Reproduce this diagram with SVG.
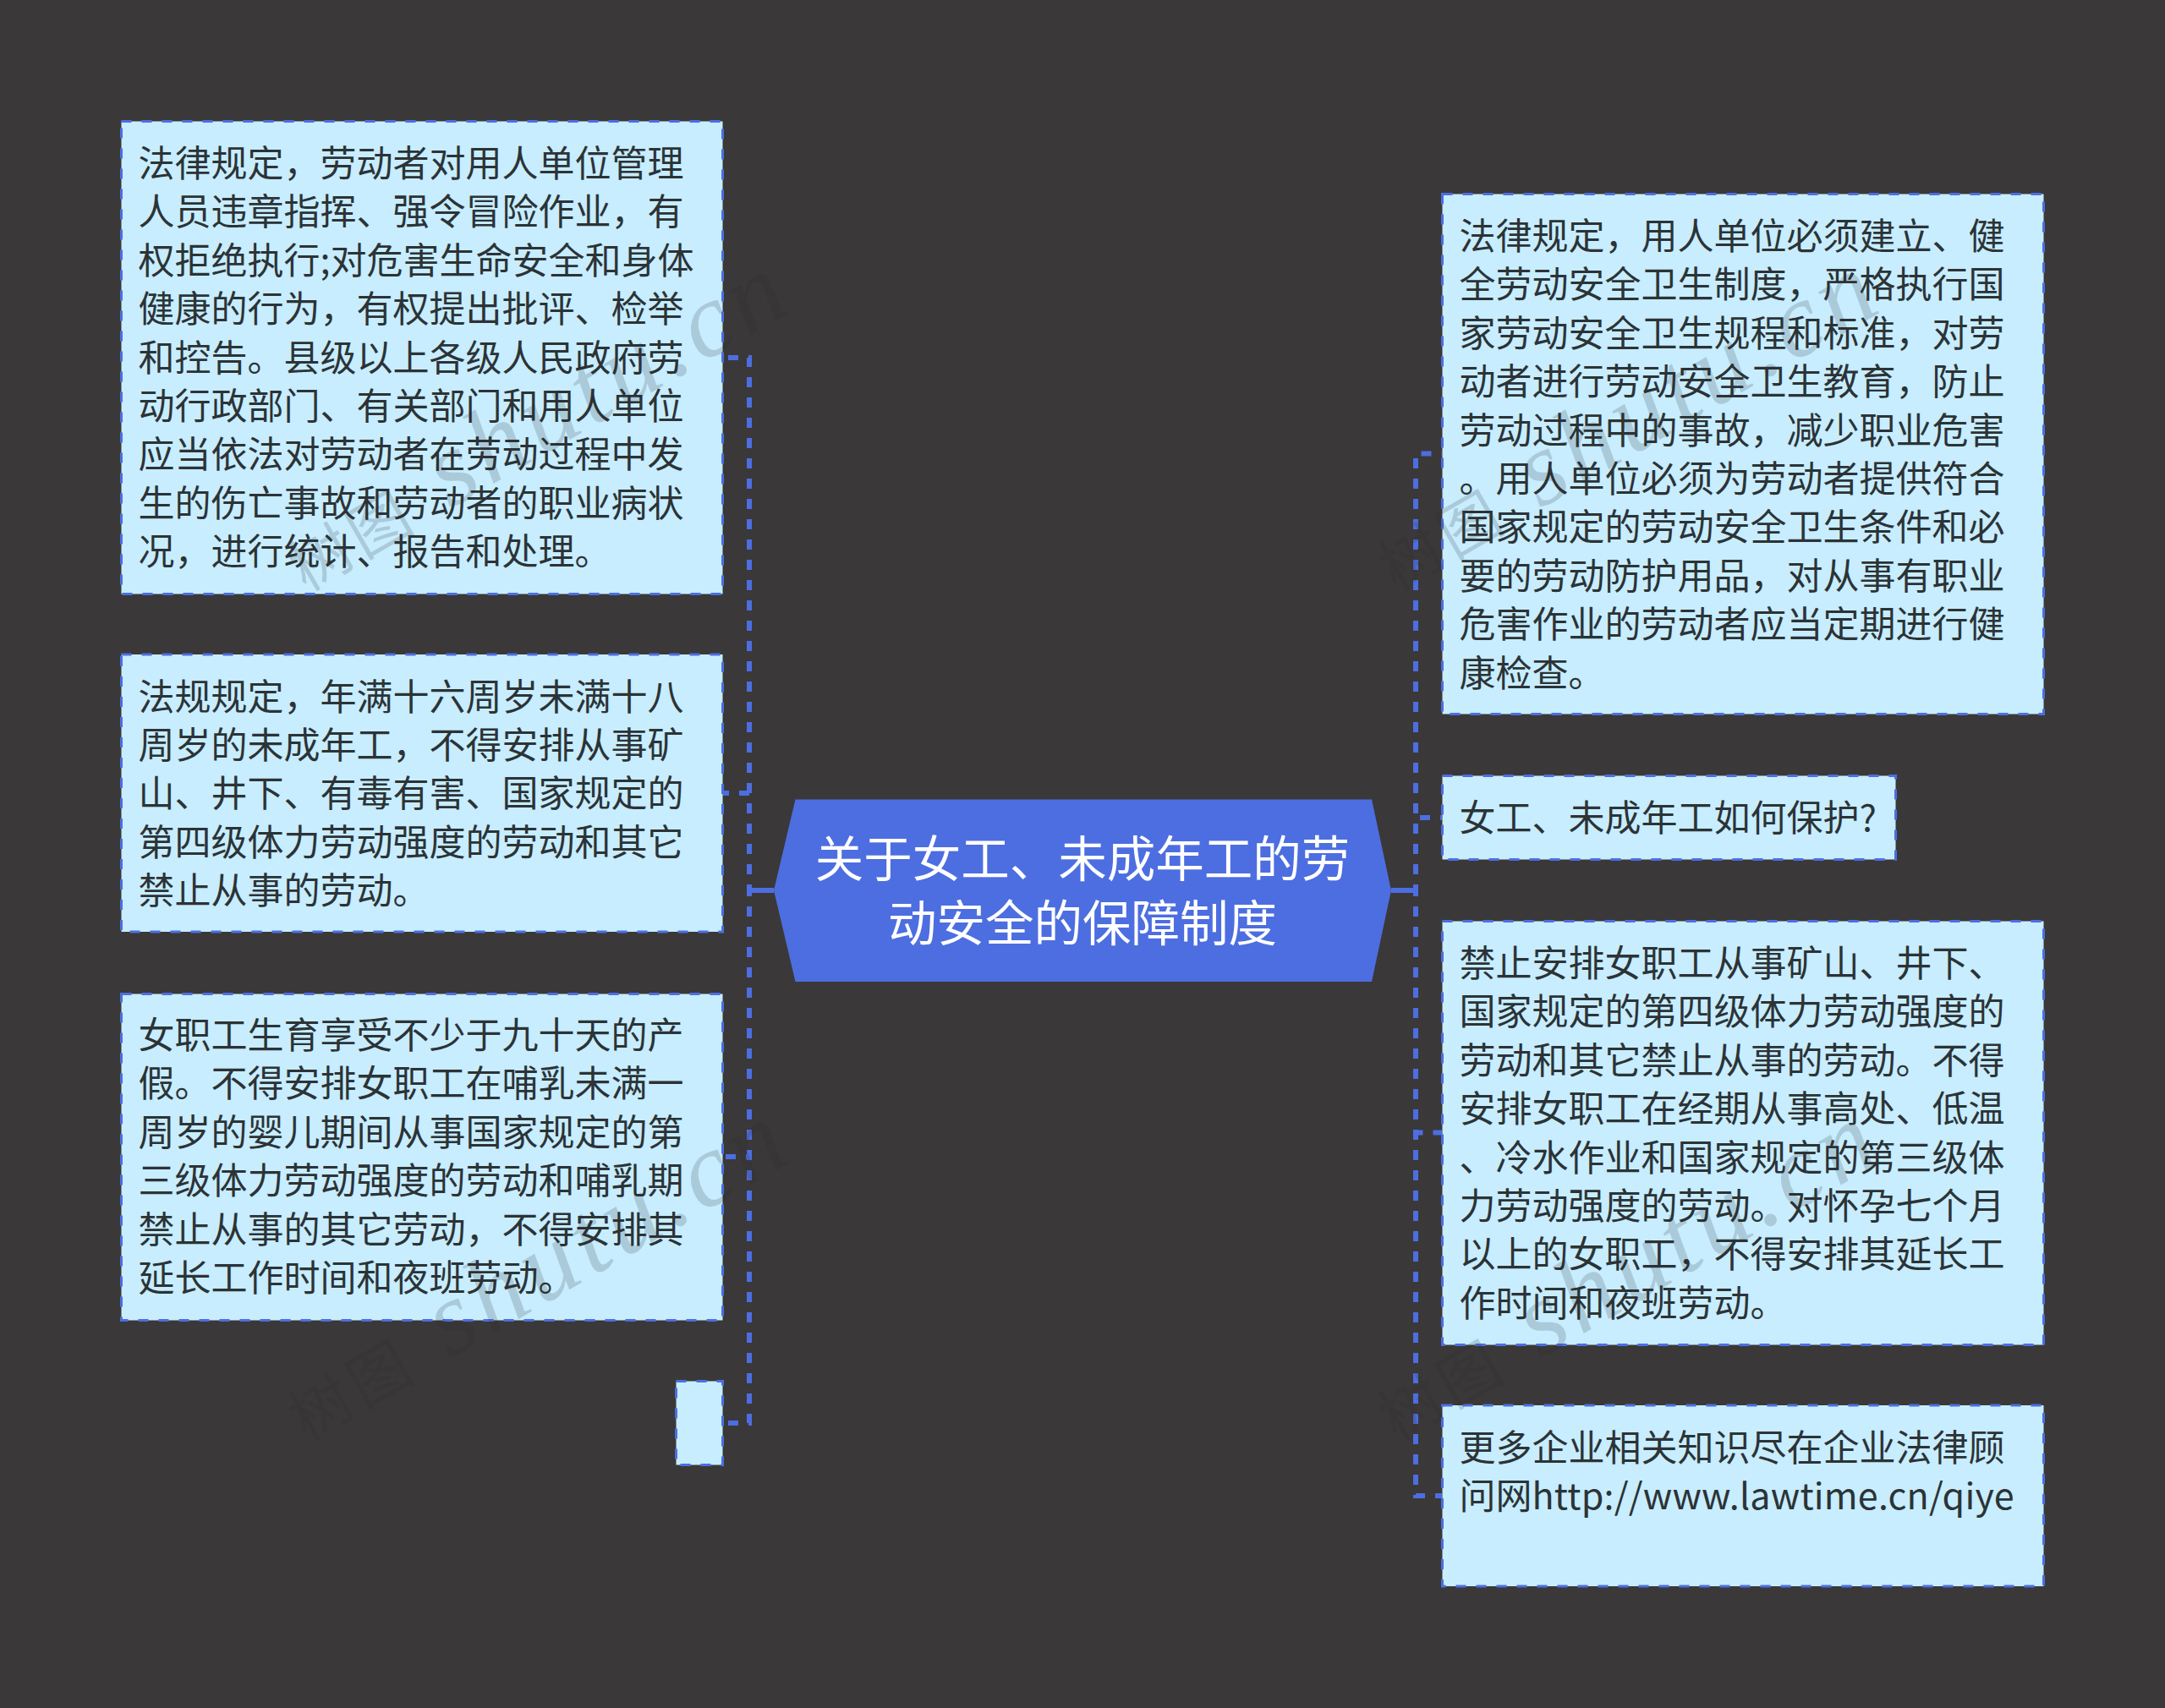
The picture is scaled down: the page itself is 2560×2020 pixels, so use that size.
<svg xmlns="http://www.w3.org/2000/svg" width="2560" height="2020" viewBox="0 0 2560 2020">
<style>
.n{fill:#c7edff;stroke:#4d6ee0;stroke-width:3;stroke-dasharray:12 12}
.t{font-family:"Noto Sans CJK SC","Liberation Sans",sans-serif;font-size:43px;fill:#2c3336}
.c{font-family:"Noto Sans CJK SC","Liberation Sans",sans-serif;font-size:57.5px;fill:#fff;text-anchor:middle}
.l{fill:none;stroke:#4d6ee0;stroke-width:6;stroke-dasharray:12 12}
.s{fill:none;stroke:#4d6ee0;stroke-width:6}
.w{font-family:"Liberation Serif","Noto Sans CJK SC",serif;font-style:italic;font-size:125px;letter-spacing:7px;fill:#2a2a2a;fill-opacity:.18;text-anchor:end}
.wc{font-size:72px;font-style:normal}
</style>
<rect width="2560" height="2020" fill="#3a3839"/>
<g id="connectors">
<path class="l" d="M915 1053H886V423H855"/>
<path class="l" d="M915 1053H886V938H855"/>
<path class="l" d="M915 1053H886V1368H855"/>
<path class="l" d="M915 1053H886V1683H855"/>
<path class="l" d="M1645 1053H1674V536.500H1705"/>
<path class="l" d="M1645 1053H1674V967H1705"/>
<path class="l" d="M1645 1053H1674V1339.500H1705"/>
<path class="l" d="M1645 1053H1674V1769H1705"/>
<path class="s" d="M883 1053H915M1645 1053H1677"/>
</g>
<g id="root">
<polygon points="940.500,945.500 1622,945.500 1645,1053 1622,1161 940.500,1161 915,1053" fill="#4d6ee0"/>
<text class="c" x="1280" y="1037">关于女工、未成年工的劳</text>
<text class="c" x="1280" y="1113">动安全的保障制度</text>
</g>
<g id="node-l1">
<rect class="n" x="143.500" y="143.500" width="711" height="559"/>
<text class="t" x="163.500" y="209">法律规定，劳动者对用人单位管理</text>
<text class="t" x="163.500" y="266.400">人员违章指挥、强令冒险作业，有</text>
<text class="t" x="163.500" y="323.800">权拒绝执行;对危害生命安全和身体</text>
<text class="t" x="163.500" y="381.200">健康的行为，有权提出批评、检举</text>
<text class="t" x="163.500" y="438.600">和控告。县级以上各级人民政府劳</text>
<text class="t" x="163.500" y="496">动行政部门、有关部门和用人单位</text>
<text class="t" x="163.500" y="553.400">应当依法对劳动者在劳动过程中发</text>
<text class="t" x="163.500" y="610.800">生的伤亡事故和劳动者的职业病状</text>
<text class="t" x="163.500" y="668.200">况，进行统计、报告和处理。</text>
</g>
<g id="node-l2">
<rect class="n" x="143.500" y="774" width="711" height="328"/>
<text class="t" x="163.500" y="839.500">法规规定，年满十六周岁未满十八</text>
<text class="t" x="163.500" y="896.900">周岁的未成年工，不得安排从事矿</text>
<text class="t" x="163.500" y="954.300">山、井下、有毒有害、国家规定的</text>
<text class="t" x="163.500" y="1011.700">第四级体力劳动强度的劳动和其它</text>
<text class="t" x="163.500" y="1069.100">禁止从事的劳动。</text>
</g>
<g id="node-l3">
<rect class="n" x="143.500" y="1175.500" width="711" height="386"/>
<text class="t" x="163.500" y="1240">女职工生育享受不少于九十天的产</text>
<text class="t" x="163.500" y="1297.400">假。不得安排女职工在哺乳未满一</text>
<text class="t" x="163.500" y="1354.800">周岁的婴儿期间从事国家规定的第</text>
<text class="t" x="163.500" y="1412.200">三级体力劳动强度的劳动和哺乳期</text>
<text class="t" x="163.500" y="1469.600">禁止从事的其它劳动，不得安排其</text>
<text class="t" x="163.500" y="1527">延长工作时间和夜班劳动。</text>
</g>
<g id="node-l4">
<rect class="n" x="799.500" y="1633.500" width="55" height="99"/>
</g>
<g id="node-r1">
<rect class="n" x="1705.500" y="229.500" width="711" height="615"/>
<text class="t" x="1725.500" y="295">法律规定，用人单位必须建立、健</text>
<text class="t" x="1725.500" y="352.400">全劳动安全卫生制度，严格执行国</text>
<text class="t" x="1725.500" y="409.800">家劳动安全卫生规程和标准，对劳</text>
<text class="t" x="1725.500" y="467.200">动者进行劳动安全卫生教育，防止</text>
<text class="t" x="1725.500" y="524.600">劳动过程中的事故，减少职业危害</text>
<text class="t" x="1725.500" y="582">。用人单位必须为劳动者提供符合</text>
<text class="t" x="1725.500" y="639.400">国家规定的劳动安全卫生条件和必</text>
<text class="t" x="1725.500" y="696.800">要的劳动防护用品，对从事有职业</text>
<text class="t" x="1725.500" y="754.200">危害作业的劳动者应当定期进行健</text>
<text class="t" x="1725.500" y="811.600">康检查。</text>
</g>
<g id="node-r2">
<rect class="n" x="1705.500" y="917.500" width="536" height="99"/>
<text class="t" x="1725.500" y="983">女工、未成年工如何保护?</text>
</g>
<g id="node-r3">
<rect class="n" x="1705.500" y="1089.500" width="711" height="501"/>
<text class="t" x="1725.500" y="1155">禁止安排女职工从事矿山、井下、</text>
<text class="t" x="1725.500" y="1212.400">国家规定的第四级体力劳动强度的</text>
<text class="t" x="1725.500" y="1269.800">劳动和其它禁止从事的劳动。不得</text>
<text class="t" x="1725.500" y="1327.200">安排女职工在经期从事高处、低温</text>
<text class="t" x="1725.500" y="1384.600">、冷水作业和国家规定的第三级体</text>
<text class="t" x="1725.500" y="1442">力劳动强度的劳动。对怀孕七个月</text>
<text class="t" x="1725.500" y="1499.400">以上的女职工，不得安排其延长工</text>
<text class="t" x="1725.500" y="1556.800">作时间和夜班劳动。</text>
</g>
<g id="node-r4">
<rect class="n" x="1705.500" y="1662" width="711" height="214"/>
<text class="t" x="1725.500" y="1728">更多企业相关知识尽在企业法律顾</text>
<text class="t" x="1725.500" y="1785.400">问网<tspan letter-spacing=".19">http://www.lawtime.cn/qiye</tspan></text>
</g>
<g id="watermarks">
<text class="w" transform="translate(944 364) rotate(-30)"><tspan class="wc">树图</tspan> shutu.cn</text>
<text class="w" transform="translate(2233 364) rotate(-30)"><tspan class="wc">树图</tspan> shutu.cn</text>
<text class="w" transform="translate(944 1369) rotate(-30)"><tspan class="wc">树图</tspan> shutu.cn</text>
<text class="w" transform="translate(2233 1369) rotate(-30)"><tspan class="wc">树图</tspan> shutu.cn</text>
</g>
</svg>
